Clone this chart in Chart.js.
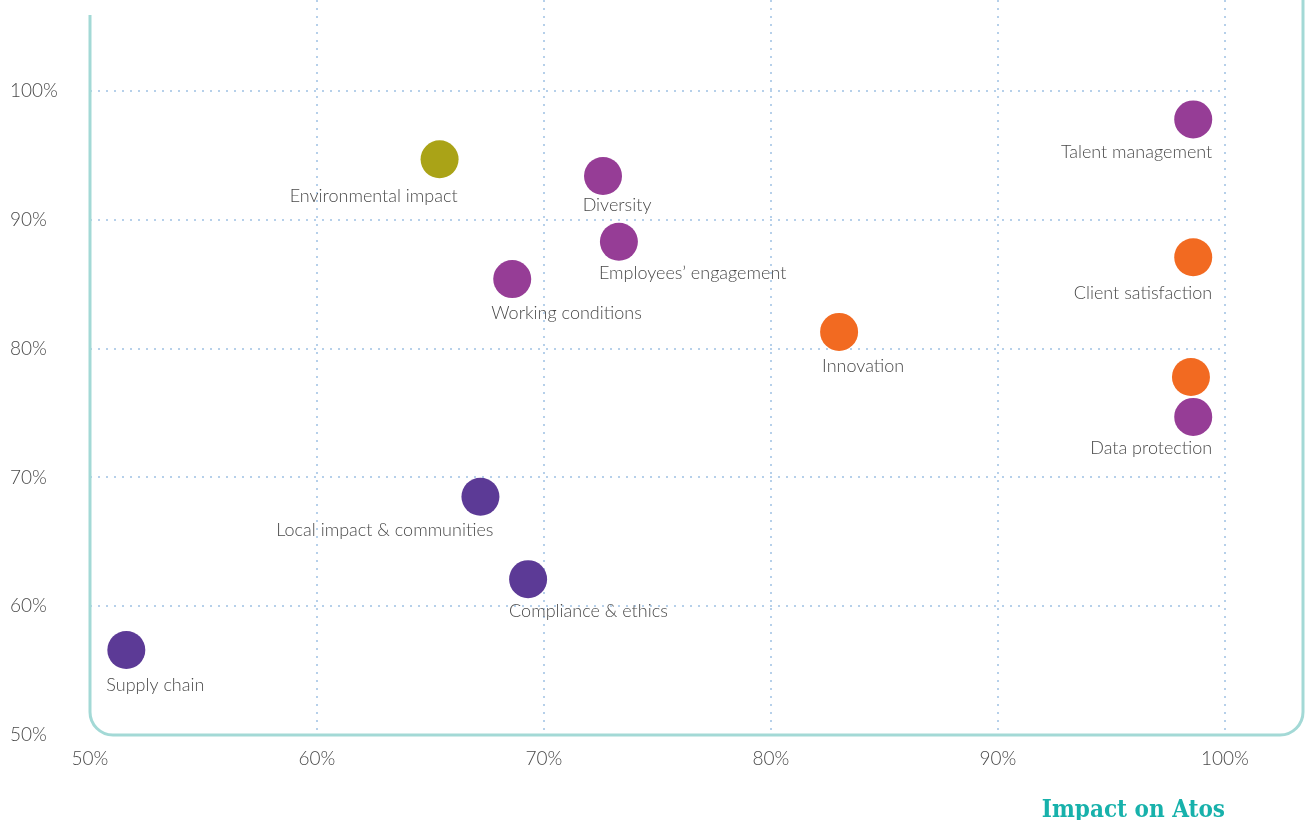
<!DOCTYPE html>
<html>
<head>
<meta charset="utf-8">
<script src="https://cdn.jsdelivr.net/npm/chart.js@4.4.1/dist/chart.umd.min.js"></script>
<style>
  html, body { margin: 0; padding: 0; background: #fff; }
</style>
</head>
<body>
<canvas id="grafico" width="1306" height="820"></canvas>
<script>
// datos
const temas = ['Talent management', 'Environmental impact', 'Diversity', 'Employees\u2019 engagement',
  'Working conditions', 'Client satisfaction', 'Innovation', 'Data protection', 'Data protection',
  'Local impact & communities', 'Compliance & ethics', 'Supply chain'];
const impactoAtos = [98.6, 65.4, 72.6, 73.3, 68.6, 98.6, 83.0, 98.5, 98.6, 67.2, 69.3, 51.6];
const impactoStakeholders = [97.8, 94.7, 93.4, 88.3, 85.4, 87.1, 81.3, 77.8, 74.7, 68.5, 62.1, 56.6];
const grupos = ['personas', 'ambiente', 'personas', 'personas', 'personas', 'negocio', 'negocio',
  'negocio', 'personas', 'etica', 'etica', 'etica'];
const ticksX = [50, 60, 70, 80, 90, 100];
const ticksY = [50, 60, 70, 80, 90, 100];

const colores = {
  personas: '#963d96',
  negocio: '#f26a21',
  ambiente: '#aaa317',
  etica: '#5c3a96'
};

// alineacion y desplazamiento de cada etiqueta respecto a su punto (null = sin etiqueta)
const posEtiquetas = [
  ['right', 19, 33], ['right', 18, 37], ['center', 14, 29], ['left', -20, 31],
  ['left', -21, 34], ['right', 19, 36], ['left', -17, 34], null, ['right', 19, 31],
  ['right', 13, 33], ['left', -19, 32], ['left', -20, 35]
];

const puntos = impactoAtos.map((x, i) => ({ x: x, y: impactoStakeholders[i] }));

// sin margen extra por el radio de los puntos: el area llega hasta arriba
Chart.registry.getController('scatter').prototype.getMaxOverflow = () => 0;

const etiquetas = {
  id: 'etiquetas',
  afterDatasetsDraw(chart) {
    const ctx = chart.ctx;
    const meta = chart.getDatasetMeta(0);
    ctx.save();
    ctx.font = '300 18px Lato';
    ctx.fillStyle = '#4a4a4a';
    ctx.textBaseline = 'middle';
    meta.data.forEach((p, i) => {
      const pos = posEtiquetas[i];
      if (!pos) return;
      ctx.textAlign = pos[0];
      ctx.fillText(temas[i], p.x + pos[1], p.y + pos[2]);
    });
    ctx.restore();
  }
};

const marco = {
  id: 'marco',
  beforeDatasetsDraw(chart) {
    const ctx = chart.ctx;
    const a = chart.chartArea;
    const izq = a.left, abajo = a.bottom, der = a.right + 78, r = 23;
    ctx.save();
    ctx.strokeStyle = '#a3d9d6';
    ctx.lineWidth = 3;
    ctx.beginPath();
    ctx.moveTo(izq, 15);
    ctx.lineTo(izq, abajo - r);
    ctx.arcTo(izq, abajo, izq + r, abajo, r);
    ctx.lineTo(der - r, abajo);
    ctx.arcTo(der, abajo, der, abajo - r, r);
    ctx.lineTo(der, 0);
    ctx.stroke();

    ctx.font = 'bold 24px "DejaVu Serif Condensed", "DejaVu Serif"';
    ctx.fillStyle = '#17b1ab';
    ctx.textAlign = 'right';
    ctx.textBaseline = 'alphabetic';
    ctx.fillText('Impact on Atos', a.right, 817);
    ctx.restore();
  }
};

const colorGrid = ctx => (ctx.tick && ctx.tick.value === 50) ? 'rgba(0,0,0,0)' : '#b6d0ea';

new Chart(document.getElementById('grafico'), {
  type: 'scatter',
  data: {
    datasets: [{
      label: 'Temas',
      data: puntos,
      clip: false,
      pointRadius: 19,
      pointHoverRadius: 19,
      pointBorderWidth: 0,
      pointBackgroundColor: grupos.map(g => colores[g]),
      pointBorderColor: grupos.map(g => colores[g])
    }]
  },
  options: {
    responsive: false,
    animation: false,
    layout: { padding: { left: 10, right: 81, top: 0, bottom: 0 } },
    plugins: {
      legend: { display: false },
      tooltip: { enabled: false }
    },
    scales: {
      x: {
        type: 'linear',
        min: 50,
        max: 100,
        afterBuildTicks: s => { s.ticks = ticksX.map(v => ({ value: v })); },
        afterFit: s => { s.height = 85; s.paddingLeft = 0; s.paddingRight = 0; },
        border: { display: false, dash: [2, 6] },
        grid: { color: colorGrid, lineWidth: 2, drawTicks: false },
        ticks: {
          padding: 12,
          color: '#4a4a4a',
          font: { family: 'Lato', size: 19, weight: 300 },
          callback: v => v + '%'
        }
      },
      y: {
        type: 'linear',
        min: 50,
        max: 107.07,
        afterBuildTicks: s => { s.ticks = ticksY.map(v => ({ value: v })); },
        afterFit: s => { s.width = 80; s.paddingTop = 0; s.paddingBottom = 0; },
        border: { display: false, dash: [2, 6] },
        grid: { color: colorGrid, lineWidth: 2, drawTicks: false },
        ticks: {
          crossAlign: 'far',
          color: '#4a4a4a',
          font: { family: 'Lato', size: 19, weight: 300 },
          callback: v => v + '%'
        }
      }
    }
  },
  plugins: [marco, etiquetas]
});
</script>
</body>
</html>
